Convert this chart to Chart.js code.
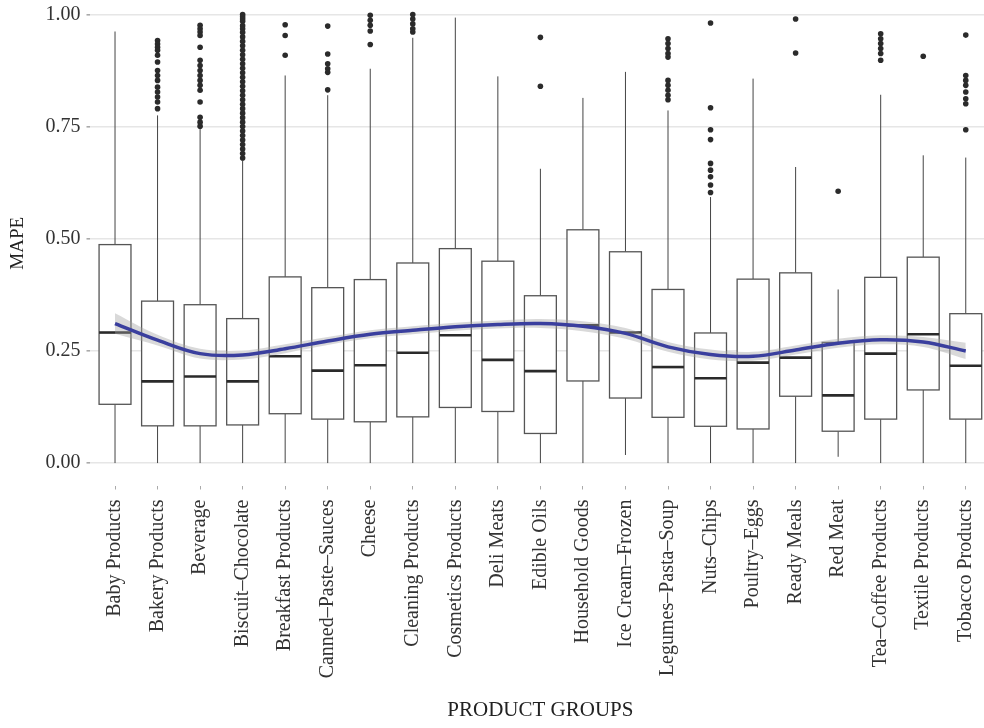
<!DOCTYPE html>
<html>
<head>
<meta charset="utf-8">
<title>MAPE by product group</title>
<script src="https://cdn.jsdelivr.net/npm/chart.js@4.4.1/dist/chart.umd.min.js"></script>
<style>
  html, body { margin: 0; padding: 0; background: #fff; overflow: hidden; }
  /* a área do gráfico começa acima da janela, como no original recortado */
  #wrap { width: 1000px; height: 745px; margin-top: -17px; }
</style>
</head>
<body>
<div id="wrap"><canvas id="grafico"></canvas></div>
<script>
// Categorias (grupos de produtos)
const categorias = [
    'Baby Products', 'Bakery Products', 'Beverage', 'Biscuit–Chocolate', 'Breakfast Products',
    'Canned–Paste–Sauces', 'Cheese', 'Cleaning Products', 'Cosmetics Products', 'Deli Meats',
    'Edible Oils', 'Household Goods', 'Ice Cream–Frozen', 'Legumes–Pasta–Soup', 'Nuts–Chips',
    'Poultry–Eggs', 'Ready Meals', 'Red Meat', 'Tea–Coffee Products', 'Textile Products', 'Tobacco Products'
];

// Estatísticas dos boxplots
const bigodeMin = [0, 0, 0, 0, 0, 0, 0, 0, 0, 0, 0, 0, 0.018, 0, 0, 0, 0, 0.014, 0, 0, 0];
const q1 =        [0.131, 0.083, 0.083, 0.085, 0.110, 0.098, 0.092, 0.103, 0.124, 0.115, 0.066, 0.183, 0.145, 0.102, 0.082, 0.076, 0.149, 0.071, 0.098, 0.163, 0.098];
const mediana =   [0.291, 0.182, 0.193, 0.182, 0.238, 0.206, 0.218, 0.246, 0.285, 0.230, 0.205, 0.307, 0.291, 0.214, 0.189, 0.224, 0.235, 0.151, 0.244, 0.287, 0.217];
const q3 =        [0.487, 0.361, 0.353, 0.322, 0.415, 0.391, 0.409, 0.446, 0.478, 0.450, 0.373, 0.520, 0.471, 0.387, 0.290, 0.410, 0.424, 0.269, 0.414, 0.459, 0.333];
const bigodeMax = [0.962, 0.775, 0.746, 0.675, 0.864, 0.820, 0.879, 0.948, 0.993, 0.862, 0.656, 0.814, 0.872, 0.786, 0.593, 0.857, 0.660, 0.387, 0.821, 0.686, 0.681];

// Outliers por categoria
const outliers = [
    [],
    [0.942, 0.934, 0.927, 0.920, 0.909, 0.894, 0.875, 0.864, 0.853, 0.838, 0.827, 0.816, 0.805, 0.790],
    [0.976, 0.968, 0.961, 0.953, 0.927, 0.898, 0.886, 0.875, 0.864, 0.853, 0.842, 0.831, 0.805, 0.771, 0.760, 0.751],
    [1.0, 0.995, 0.99, 0.985, 0.975, 0.968, 0.96, 0.95, 0.94, 0.93, 0.92, 0.91, 0.9, 0.89, 0.88, 0.87, 0.86, 0.85,
     0.84, 0.83, 0.82, 0.81, 0.80, 0.79, 0.78, 0.77, 0.76, 0.75, 0.74, 0.73, 0.72, 0.71, 0.70, 0.69, 0.68],
    [0.977, 0.953, 0.909],
    [0.974, 0.912, 0.890, 0.879, 0.871, 0.832],
    [0.998, 0.987, 0.976, 0.963, 0.933],
    [1.0, 0.990, 0.979, 0.968, 0.961],
    [],
    [],
    [0.949, 0.840],
    [],
    [],
    [0.946, 0.935, 0.924, 0.913, 0.905, 0.853, 0.842, 0.831, 0.820, 0.810],
    [0.981, 0.792, 0.743, 0.721, 0.668, 0.653, 0.638, 0.620, 0.603],
    [],
    [0.990, 0.914],
    [0.606],
    [0.957, 0.946, 0.935, 0.924, 0.913, 0.898],
    [0.907],
    [0.954, 0.864, 0.853, 0.842, 0.827, 0.812, 0.801, 0.743]
];

// Curva suavizada (loess) e intervalo de confiança
const suavizada = [0.311, 0.274, 0.244, 0.241, 0.255, 0.272, 0.287, 0.296, 0.304, 0.309, 0.311, 0.305, 0.289, 0.259, 0.242, 0.238, 0.252, 0.267, 0.275, 0.270, 0.250];
const bandaInf =  [0.288, 0.262, 0.233, 0.231, 0.245, 0.263, 0.278, 0.287, 0.295, 0.300, 0.301, 0.294, 0.277, 0.248, 0.231, 0.228, 0.242, 0.257, 0.265, 0.259, 0.232];
const bandaSup =  [0.334, 0.286, 0.255, 0.251, 0.265, 0.281, 0.296, 0.305, 0.313, 0.318, 0.321, 0.316, 0.301, 0.270, 0.253, 0.248, 0.262, 0.277, 0.285, 0.281, 0.268];

const yTicks = [0, 0.25, 0.5, 0.75, 1.0];
const fonte = 'Liberation Serif, DejaVu Serif, serif';

// Desenha caixas, medianas e bigodes usando as escalas do gráfico
const boxPlugin = {
    id: 'boxplot',
    beforeDatasetsDraw(chart) {
        const { ctx, scales: { x, y } } = chart;
        const meia = x.getPixelForValue(0.375) - x.getPixelForValue(0);
        ctx.save();
        categorias.forEach((_, i) => {
            const cx = x.getPixelForValue(i);
            // bigodes
            ctx.strokeStyle = '#444';
            ctx.lineWidth = 1;
            ctx.beginPath();
            ctx.moveTo(cx, y.getPixelForValue(bigodeMin[i]));
            ctx.lineTo(cx, y.getPixelForValue(q1[i]));
            ctx.moveTo(cx, y.getPixelForValue(q3[i]));
            ctx.lineTo(cx, y.getPixelForValue(bigodeMax[i]));
            ctx.stroke();
            // caixa
            const top = y.getPixelForValue(q3[i]);
            const bot = y.getPixelForValue(q1[i]);
            ctx.fillStyle = '#fff';
            ctx.fillRect(cx - meia, top, meia * 2, bot - top);
            ctx.lineWidth = 1.3;
            ctx.strokeStyle = '#555';
            ctx.strokeRect(cx - meia, top, meia * 2, bot - top);
            // mediana
            const my = y.getPixelForValue(mediana[i]);
            ctx.lineWidth = 2.6;
            ctx.strokeStyle = '#2a2a2a';
            ctx.beginPath();
            ctx.moveTo(cx - meia, my);
            ctx.lineTo(cx + meia, my);
            ctx.stroke();
        });
        ctx.restore();
    }
};

const pontosOutliers = [];
outliers.forEach((lista, i) => lista.forEach(v => pontosOutliers.push({ x: i, y: v })));

const ctx = document.getElementById('grafico').getContext('2d');
new Chart(ctx, {
    type: 'scatter',
    data: {
        datasets: [
            {
                type: 'line',
                label: 'loess',
                data: suavizada.map((v, i) => ({ x: i, y: v })),
                borderColor: '#3a3f9e',
                borderWidth: 3.5,
                pointRadius: 0,
                tension: 0.35,
                fill: false,
                clip: false
            },
            {
                type: 'line',
                label: 'banda sup',
                data: bandaSup.map((v, i) => ({ x: i, y: v })),
                borderWidth: 0,
                pointRadius: 0,
                tension: 0.35,
                backgroundColor: 'rgba(160,160,160,0.4)',
                fill: '+1'
            },
            {
                type: 'line',
                label: 'banda inf',
                data: bandaInf.map((v, i) => ({ x: i, y: v })),
                borderWidth: 0,
                pointRadius: 0,
                tension: 0.35,
                fill: false
            },
            {
                label: 'outliers',
                data: pontosOutliers,
                backgroundColor: '#2b2b2b',
                borderWidth: 0,
                pointRadius: 2.8,
                clip: false
            }
        ]
    },
    options: {
        responsive: true,
        maintainAspectRatio: false,
        animation: false,
        layout: { padding: { top: 0, right: 8.5, bottom: 0, left: 0 } },
        plugins: {
            legend: { display: false },
            tooltip: { enabled: false }
        },
        scales: {
            x: {
                type: 'linear',
                min: -0.6,
                max: 20.6,
                afterBuildTicks: axis => { axis.ticks = categorias.map((_, i) => ({ value: i })); },
                afterFit: axis => { axis.height = 242.5; },
                border: { display: false },
                grid: { drawOnChartArea: false, tickLength: 4, tickColor: '#aaa' },
                ticks: {
                    autoSkip: false,
                    minRotation: 90,
                    maxRotation: 90,
                    padding: 10,
                    color: '#333',
                    font: { family: fonte, size: 20 },
                    callback: v => categorias[v]
                },
                title: {
                    display: true,
                    text: 'PRODUCT GROUPS',
                    color: '#222',
                    font: { family: fonte, size: 21 },
                    padding: { top: 0, bottom: 5 }
                }
            },
            y: {
                min: -0.05,
                max: 1.03,
                afterBuildTicks: axis => { axis.ticks = yTicks.map(v => ({ value: v })); },
                afterFit: axis => { axis.width = 89.5; },
                border: { display: false },
                grid: { color: '#e6e6e6', lineWidth: 1.6, tickLength: 3, tickColor: '#aaa' },
                ticks: {
                    padding: 6,
                    color: '#333',
                    font: { family: fonte, size: 20 },
                    callback: v => v.toFixed(2)
                },
                title: {
                    display: true,
                    text: 'MAPE',
                    color: '#222',
                    font: { family: fonte, size: 19 },
                    padding: { top: 7, bottom: 0 }
                }
            }
        }
    },
    plugins: [boxPlugin]
});
</script>
</body>
</html>
